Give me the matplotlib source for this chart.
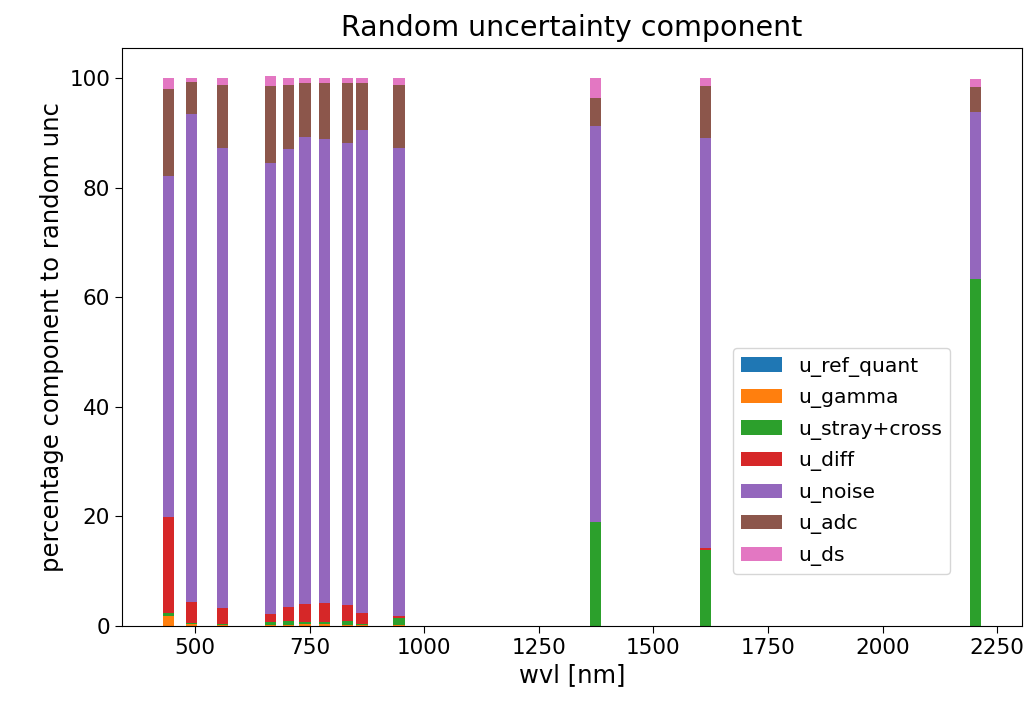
import numpy as np
import matplotlib
matplotlib.use("Agg")
import matplotlib.pyplot as plt

# Sentinel-2A band centres [nm]
wvl = [442.7, 492.4, 559.8, 664.6, 704.1, 740.5, 782.8, 832.8, 864.7, 945.1, 1373.5, 1613.7, 2202.4]

# percentage contribution of each component
u_ref_quant = [0.05, 0.05, 0.05, 0.05, 0.05, 0.05, 0.05, 0.05, 0.05, 0.05, 0.0, 0.0, 0.0]
u_gamma = [1.8, 0.4, 0.1, 0.1, 0.1, 0.3, 0.3, 0.1, 0.1, 0.1, 0.0, 0.0, 0.0]
u_stray = [0.5, 0.1, 0.3, 0.6, 0.8, 0.4, 0.4, 0.8, 0.3, 1.3, 18.9, 13.9, 63.4]
u_diff = [17.5, 3.9, 2.8, 1.4, 2.6, 3.3, 3.5, 2.8, 1.9, 0.4, 0.0, 0.3, 0.0]
u_noise = [62.3, 89.0, 84.0, 82.3, 83.5, 85.3, 84.7, 84.5, 88.2, 85.4, 72.3, 74.9, 30.4]
u_adc = [15.9, 5.9, 11.5, 14.1, 11.7, 9.7, 10.1, 10.8, 8.5, 11.5, 5.1, 9.4, 4.6]
u_ds = [2.0, 0.7, 1.3, 1.9, 1.3, 1.0, 1.0, 1.0, 1.0, 1.3, 3.7, 1.5, 1.5]

labels = ["u_ref_quant", "u_gamma", "u_stray+cross", "u_diff", "u_noise", "u_adc", "u_ds"]
comps = [u_ref_quant, u_gamma, u_stray, u_diff, u_noise, u_adc, u_ds]

fig = plt.figure(figsize=(10.35, 7.04), dpi=100)
ax = fig.add_axes([0.1179, 0.1108, 0.8695, 0.8207])

bottom = np.zeros(len(wvl))
for lab, vals in zip(labels, comps):
    ax.bar(wvl, vals, width=25, bottom=bottom, label=lab)
    bottom += np.array(vals)

ax.set_title("Random uncertainty component", fontsize=20.5, pad=9)
ax.set_xlabel("wvl [nm]", fontsize=17.5)
ax.set_ylabel("percentage component to random unc", fontsize=17.5)
ax.tick_params(labelsize=15.5, length=5)
ax.legend(loc="lower left", bbox_to_anchor=(0.679, 0.09), borderaxespad=0,
          fontsize=14.6, labelspacing=0.57)

fig.savefig("out.png", dpi=100)
